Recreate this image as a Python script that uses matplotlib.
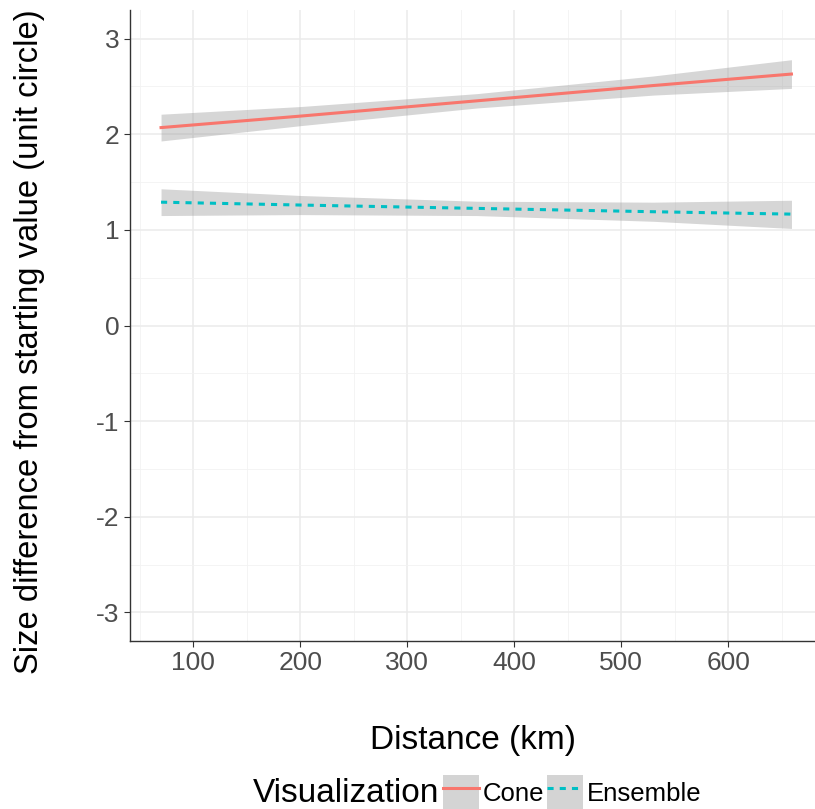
import matplotlib
matplotlib.use('Agg')
import matplotlib.pyplot as plt
from matplotlib.patches import Patch
from matplotlib.lines import Line2D
from matplotlib.ticker import MultipleLocator

plt.rcParams['axes.unicode_minus'] = False

# fitted lines with confidence bands
dist = [70, 200, 365, 530, 659]
cone_fit = [2.07, 2.19, 2.35, 2.51, 2.63]
cone_lo = [1.93, 2.09, 2.275, 2.41, 2.48]
cone_hi = [2.21, 2.29, 2.425, 2.61, 2.78]
ens_fit = [1.29, 1.26, 1.225, 1.19, 1.165]
ens_lo = [1.15, 1.16, 1.15, 1.09, 1.015]
ens_hi = [1.43, 1.36, 1.30, 1.29, 1.31]

x_ticks = [100, 200, 300, 400, 500, 600]
y_ticks = [-3, -2, -1, 0, 1, 2, 3]

font = ['Liberation Sans', 'DejaVu Sans']

fig = plt.figure(figsize=(8.15, 8.09), dpi=100)
ax = fig.add_axes([130/815, 1 - 641/809, 1 - 130/815, 631/809])

band = '#999999'
ax.fill_between(dist, cone_lo, cone_hi, color=band, alpha=0.4, lw=0, zorder=2)
ax.fill_between(dist, ens_lo, ens_hi, color=band, alpha=0.4, lw=0, zorder=2)
ax.plot(dist, cone_fit, color='#F8766D', lw=2.2, zorder=3)
ax.plot(dist, ens_fit, color='#00BFC4', lw=2.2, ls=(0, (2, 2)), zorder=3)

ax.set_xlim(41, 681)
ax.set_ylim(-3.3, 3.3)
ax.set_xticks(x_ticks)
ax.set_yticks(y_ticks)
ax.xaxis.set_minor_locator(MultipleLocator(50))
ax.yaxis.set_minor_locator(MultipleLocator(0.5))
ax.grid(True, which='major', color='#EBEBEB', lw=1.1, zorder=0)
ax.grid(True, which='minor', color='#F2F2F2', lw=0.6, zorder=0)
ax.tick_params(which='minor', length=0)
ax.tick_params(which='major', length=4, width=0.8, color='#333333',
               labelcolor='#4D4D4D', labelsize=19)
for lab in ax.get_xticklabels() + ax.get_yticklabels():
    lab.set_family(font)
for s in ['top', 'right']:
    ax.spines[s].set_visible(False)
for s in ['left', 'bottom']:
    ax.spines[s].set_color('#333333')
    ax.spines[s].set_linewidth(1.0)
ax.set_axisbelow(True)

ax.set_xlabel('Distance (km)', fontsize=24, family=font, labelpad=36)
ax.set_ylabel('Size difference from starting value (unit circle)', fontsize=23.6,
              family=font, va='center')
ax.yaxis.set_label_coords(-100/685, 299/631)

fig.text(253/815, 1 - 793/809, 'Visualization', fontsize=24, family=font,
         va='center', ha='left')
handles = [
    (Patch(facecolor='#D4D4D4', edgecolor='none'),
     Line2D([], [], color='#F8766D', lw=2.2)),
    (Patch(facecolor='#D4D4D4', edgecolor='none'),
     Line2D([], [], color='#00BFC4', lw=2.2, ls=(0, (2, 2)))),
]
fig.legend(handles, ['Cone', 'Ensemble'], loc='center left',
           bbox_to_anchor=(443/815, 1 - 793/809), ncol=2, frameon=False,
           prop={'family': font, 'size': 18.5}, handlelength=1.4,
           handleheight=1.8, handletextpad=0.15, columnspacing=0.1,
           borderpad=0, borderaxespad=0)

fig.savefig('out.png', dpi=100)
